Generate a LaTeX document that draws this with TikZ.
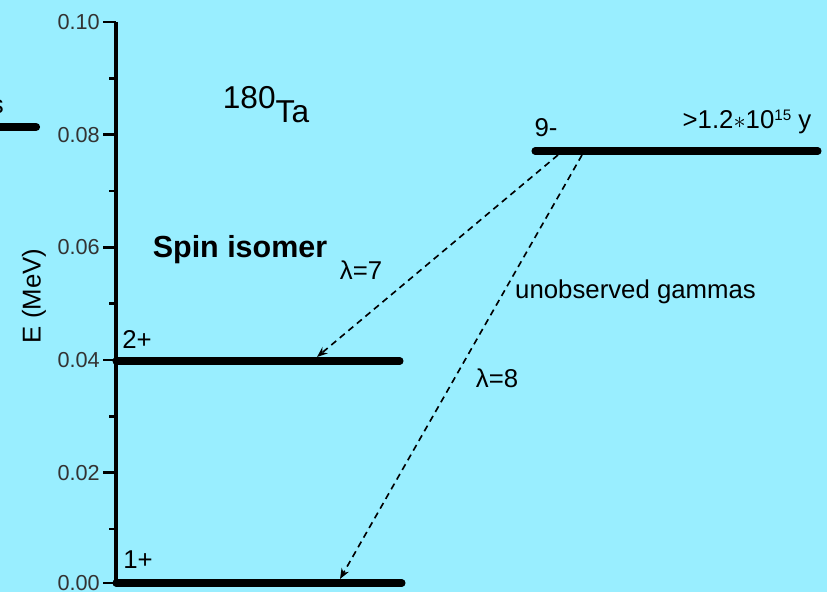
\documentclass[tikz,border=0pt]{standalone}
\usepackage{fontspec}
\setmainfont{Liberation Sans}
\usetikzlibrary{arrows.meta,positioning}
\definecolor{skycyan}{RGB}{153,238,255}

\begin{document}
\begin{tikzpicture}[x=0.03cm, y=-0.03cm,
    level/.style={line width=6pt, line cap=round},
    axisline/.style={line width=4.2pt},
    tickmark/.style={line width=2.5pt},
    gamma/.style={dash pattern=on 5.5pt off 4pt, line width=1.4pt, -{Stealth[length=9pt,width=7pt]}},
    lbl/.style={font=\fontsize{22}{24}\selectfont, inner sep=0pt},
    ticklbl/.style={font=\fontsize{18.5}{20}\selectfont, anchor=east, inner sep=0pt, text=black!80}
]
\fill[skycyan] (0,0) rectangle (827,592);
\useasboundingbox (0,0) rectangle (827,592);
\clip (0,0) rectangle (827,592);

% Energy axis
\draw[axisline] (116,22) -- (116,584);
\foreach \y in {22,134.7,247.3,360,472.7,583}
    \draw[tickmark] (103,\y) -- (116,\y);
\foreach \y in {78.3,191,303.7,416.4,529}
    \draw[tickmark] (109,\y) -- (116,\y);
\node[ticklbl] (e10) at (100,22) {0.10};
\node[ticklbl] (e08) at (100,134.7) {0.08};
\node[ticklbl] (e06) at (100,247.3) {0.06};
\node[ticklbl] (e04) at (100,360) {0.04};
\node[ticklbl] (e02) at (100,472.7) {0.02};
\node[ticklbl] (e00) at (100,583) {0.00};
\node[lbl, rotate=90] (eaxis) at (34,296) {E (MeV)};

% Levels
\draw[level, line width=7pt] (-5,127) -- (36,127);
\node[lbl, anchor=east] (cut) at (4,107) {s};
\draw[level] (116,361) -- (400,361);
\draw[level] (116,583) -- (402,583);
\draw[level] (535,151) -- (818,151);
\node[lbl] (lv2) at (137,340) {2+};
\node[lbl] (lv1) at (138,560) {1+};
\node[lbl] (lv9) at (546,128) {9-};
\node[lbl] (life) at (747,122) {>1.2$\ast$10\raisebox{7pt}{\fontsize{13}{14}\selectfont 15} y};

% Titles
\node[lbl, font=\fontsize{27}{30}\selectfont] (nucl) at (266,105) {\raisebox{12pt}{180}Ta};
\node[lbl, font=\fontsize{26}{28}\selectfont\bfseries] (spin) at (240,250) {Spin isomer};

% Gamma transitions
\coordinate (g7a) at (558,155);
\coordinate (g7b) at (317,357);
\coordinate (g8a) at (582,155);
\coordinate (g8b) at (340,579);
\draw[gamma] (g7a) -- (g7b);
\draw[gamma] (g8a) -- (g8b);
\node[lbl] (l7) at (361,270) {λ=7};
\node[lbl] (l8) at (497,378) {λ=8};
\node[lbl, anchor=west] (unobs) at (515,292) {unobserved gammas};

\end{tikzpicture}
\end{document}
